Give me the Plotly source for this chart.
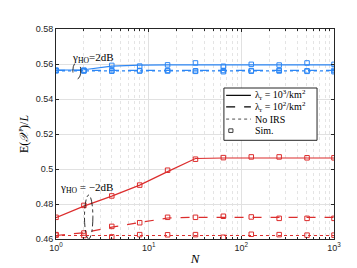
import plotly.graph_objects as go

N = [1, 2, 4, 8, 16, 32, 64, 128, 256, 512, 1000]

# gamma_HO = 2 dB (blue)
blue_solid_line = [0.5565, 0.5567, 0.5588, 0.5594, 0.5595, 0.5595, 0.5595, 0.5595, 0.5595, 0.5595, 0.5595]
blue_solid_sim = [0.5565, 0.5565, 0.5592, 0.5588, 0.5595, 0.5606, 0.5587, 0.5598, 0.5594, 0.5606, 0.5598]
blue_dash_line = [0.5563, 0.5563, 0.5563, 0.5563, 0.5563, 0.5563, 0.5563, 0.5563, 0.5563, 0.5563, 0.5563]
blue_dash_sim = [0.5563, 0.5562, 0.5562, 0.5560, 0.5563, 0.5561, 0.5563, 0.5562, 0.5564, 0.5561, 0.5563]
blue_dot_line = [0.5561, 0.5561, 0.5561, 0.5561, 0.5561, 0.5561, 0.5561, 0.5561, 0.5561, 0.5561, 0.5561]
blue_dot_sim = [0.5561, 0.5560, 0.5559, 0.5562, 0.5560, 0.5558, 0.5556, 0.5559, 0.5560, 0.5558, 0.5556]

# gamma_HO = -2 dB (red)
red_solid_line = [0.4722, 0.4788, 0.4845, 0.4908, 0.4985, 0.5060, 0.5063, 0.5063, 0.5063, 0.5063, 0.5063]
red_solid_sim = [0.4724, 0.4792, 0.4846, 0.4908, 0.4993, 0.5056, 0.5065, 0.5069, 0.5069, 0.5064, 0.5064]
red_dash_line = [0.4620, 0.4636, 0.4668, 0.4694, 0.4720, 0.4724, 0.4724, 0.4724, 0.4724, 0.4724, 0.4724]
red_dash_sim = [0.4625, 0.4634, 0.4672, 0.4693, 0.4724, 0.4724, 0.4730, 0.4726, 0.4718, 0.4718, 0.4718]
red_dot_line = [0.4620, 0.4620, 0.4620, 0.4620, 0.4620, 0.4620, 0.4620, 0.4620, 0.4620, 0.4620, 0.4620]
red_dot_sim = [0.4622, 0.4620, 0.4612, 0.4625, 0.4624, 0.4625, 0.4610, 0.4627, 0.4625, 0.4622, 0.4622]

x_tickvals = [1, 10, 100, 1000]
x_ticktext = ["10<sup>0</sup>", "10<sup>1</sup>", "10<sup>2</sup>", "10<sup>3</sup>"]
y_tickvals = [0.46, 0.48, 0.5, 0.52, 0.54, 0.56, 0.58]
y_ticktext = ["0.46", "0.48", "0.5", "0.52", "0.54", "0.56", "0.58"]

legend_labels = ["λ<sub>r</sub> = 10<sup>3</sup>/km<sup>2</sup>",
                 "λ<sub>r</sub> = 10<sup>2</sup>/km<sup>2</sup>",
                 "No IRS", "Sim."]

BLUE = "rgb(45,135,245)"
RED = "rgb(220,45,45)"
DARK = "rgb(38,38,38)"
SERIF = "Liberation Serif, DejaVu Serif"

fig = go.Figure()

def add_pair(line, sim, color, dash):
    fig.add_trace(go.Scatter(x=N, y=line, mode="lines", line=dict(color=color, width=1.2, dash=dash),
                             showlegend=False, hoverinfo="skip"))
    fig.add_trace(go.Scatter(x=N, y=sim, mode="markers",
                             marker=dict(symbol="square-open", size=4.5, color=color, line=dict(width=1)),
                             showlegend=False, hoverinfo="skip"))

add_pair(blue_solid_line, blue_solid_sim, BLUE, "solid")
add_pair(blue_dash_line, blue_dash_sim, BLUE, "dash")
add_pair(blue_dot_line, blue_dot_sim, BLUE, "dot")
add_pair(red_solid_line, red_solid_sim, RED, "solid")
add_pair(red_dash_line, red_dash_sim, RED, "dash")
add_pair(red_dot_line, red_dot_sim, RED, "dot")

minor_vals = [m * 10 ** e for e in range(0, 3) for m in range(2, 10)]

axis_common = dict(showline=True, linecolor=DARK, linewidth=1, mirror="ticks",
                   ticks="inside", ticklen=3, tickcolor=DARK,
                   gridcolor="rgb(225,225,225)", gridwidth=1, zeroline=False,
                   tickfont=dict(family="Liberation Sans, Arial", size=9, color=DARK))

fig.update_xaxes(type="log", range=[0, 3], tickvals=x_tickvals, ticktext=x_ticktext,
                 minor=dict(tickvals=minor_vals, ticks="inside", ticklen=2, tickcolor=DARK,
                            showgrid=True, gridcolor="rgb(228,228,228)", griddash="dot", gridwidth=1),
                 title=dict(text="<i>N</i>", font=dict(family=SERIF, size=13, color="black"), standoff=2),
                 **axis_common)
fig.update_yaxes(range=[0.46, 0.58], tickvals=y_tickvals, ticktext=y_ticktext,
                 title=dict(text="E(<i>𝒳</i><sup>r</sup>)/<i>L</i>",
                            font=dict(family=SERIF, size=12, color="black"), standoff=4),
                 **axis_common)

# ellipses
fig.add_shape(type="circle", xref="x", yref="y", x0=1.52, x1=1.85, y0=0.5514, y1=0.5610,
              line=dict(color="black", width=0.8, dash="dash"))
fig.add_shape(type="circle", xref="x", yref="y", x0=2.03, x1=2.50, y0=0.4600, y1=0.4851,
              line=dict(color="black", width=0.8, dash="dashdot"))

fig.add_annotation(x=0.40, y=0.5637, xref="x", yref="y", text="γ<sub>HO</sub>=2dB", showarrow=False,
                   font=dict(family=SERIF, size=11, color="black"))
fig.add_annotation(x=0.325, y=0.4893, xref="x", yref="y", text="γ<sub>HO</sub> = −2dB", showarrow=False,
                   font=dict(family=SERIF, size=11, color="black"))

# custom compact legend (plot-area paper coordinates)
fig.add_shape(type="rect", xref="paper", yref="paper", x0=0.604, x1=0.939, y0=0.470, y1=0.719,
              line=dict(color=DARK, width=1), fillcolor="white", layer="above")
row_y = [0.684, 0.629, 0.571, 0.516]
dashes = ["solid", "dash", "dot"]
widths = [1.2, 1.2, 0.7]
for i in range(3):
    fig.add_shape(type="line", xref="paper", yref="paper", x0=0.612, x1=0.701, y0=row_y[i], y1=row_y[i],
                  line=dict(color="black", width=widths[i], dash=dashes[i]), layer="above")
fig.add_shape(type="rect", xref="paper", yref="paper", x0=0.6215, x1=0.6365, y0=row_y[3] - 0.0085,
              y1=row_y[3] + 0.0085, line=dict(color="rgb(60,60,60)", width=1), layer="above")
for i, lab in enumerate(legend_labels):
    fig.add_annotation(x=0.708, y=row_y[i], xref="paper", yref="paper", text=lab, showarrow=False,
                       xanchor="left", yanchor="middle",
                       font=dict(family=SERIF, size=10, color="black"))

fig.update_layout(
    width=357, height=268,
    margin=dict(l=48, r=31, t=21, b=30),
    plot_bgcolor="white", paper_bgcolor="white",
    showlegend=False,
)

fig.write_html("out.html")
